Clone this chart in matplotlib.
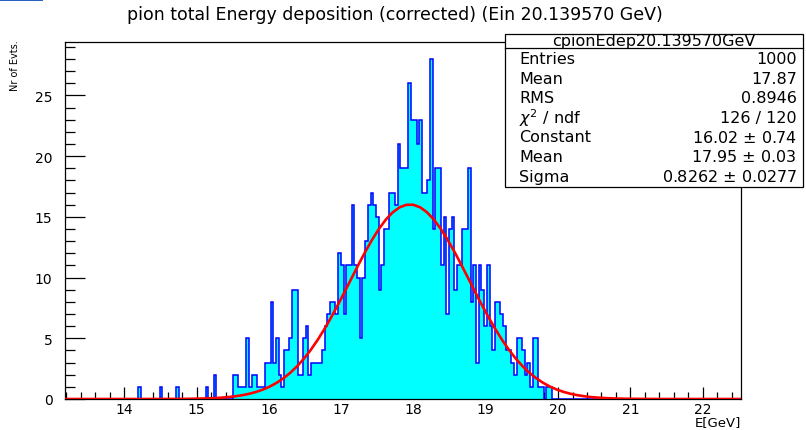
import numpy as np
import matplotlib
matplotlib.use("Agg")
import matplotlib.pyplot as plt
from matplotlib.patches import Rectangle
from matplotlib.ticker import MultipleLocator

plt.rcParams['font.family'] = ['DejaVu Sans']

# histogram binning and contents (250 bins)
e_min, e_max = 13.18, 22.53
counts = [
    0, 0, 0, 0, 0, 0, 0, 0, 0, 0, 0, 0, 0, 0, 0, 0, 0, 0, 0, 0, 0, 0, 0, 0, 0,
    0, 0, 1, 0, 0, 0, 0, 0, 0, 0, 1, 0, 0, 0, 0, 0, 1, 0, 0, 0, 0, 0, 0, 0, 0,
    0, 0, 1, 0, 0, 2, 0, 0, 0, 0, 0, 0, 2, 2, 1, 1, 1, 5, 1, 2, 2, 1, 1, 1, 3,
    3, 8, 3, 5, 2, 1, 4, 4, 5, 9, 9, 2, 2, 5, 6, 2, 3, 3, 3, 3, 4, 6, 7, 8, 8,
    7, 12, 11, 7, 11, 11, 16, 11, 10, 5, 10, 13, 16, 17, 16, 15, 9, 11, 14, 14, 17, 17, 16, 21, 19,
    19, 19, 26, 23, 23, 21, 23, 17, 17, 18, 28, 14, 19, 19, 11, 15, 7, 14, 15, 9, 11, 11, 14, 14, 19,
    8, 11, 3, 11, 9, 6, 11, 6, 4, 8, 8, 7, 6, 4, 4, 3, 2, 5, 5, 4, 2, 3, 1, 5, 5,
    1, 1, 0, 1, 1, 0, 0, 0, 0, 0, 0, 0, 0, 0, 0, 0, 0, 0, 0, 0, 0, 0, 0, 0, 0,
    0, 0, 0, 0, 0, 0, 0, 0, 0, 0, 0, 0, 0, 0, 0, 0, 0, 0, 0, 0, 0, 0, 0, 0, 0,
    0, 0, 0, 0, 0, 0, 0, 0, 0, 0, 0, 0, 0, 0, 0, 0, 0, 0, 0, 0, 0, 0, 0, 0, 0,
]

# gaussian fit result
fit_const, fit_mean, fit_sigma = 16.02, 17.95, 0.8262

hist_name = "cpionEdep20.139570GeV"
stat_labels = ["Entries", "Mean", "RMS", r"$\chi^{2}$ / ndf", "Constant", "Mean", "Sigma"]
stat_values = ["1000", "17.87", "0.8946", "126 / 120",
               "16.02 $\\pm$ 0.74", "17.95 $\\pm$ 0.03", "0.8262 $\\pm$ 0.0277"]

W, H = 806, 431


def fx(px):
    return px / W


def fy(py):
    return 1 - py / H


fig = plt.figure(figsize=(W / 100, H / 100), dpi=100)
ax = fig.add_axes([fx(65), fy(400), fx(741) - fx(65), fy(43) - fy(400)])

edges = np.linspace(e_min, e_max, len(counts) + 1)
ax.stairs(counts, edges, fill=True, color='#00ffff', zorder=2)
ax.stairs(counts, edges, color='#0000ff', lw=1.1, baseline=0, zorder=3)

xf = np.linspace(e_min, e_max, 100)
yf = fit_const * np.exp(-0.5 * ((xf - fit_mean) / fit_sigma) ** 2)
ax.plot(xf, yf, color='#ff0000', lw=1.9, zorder=4)

ax.set_xlim(e_min, e_max)
ax.set_ylim(0, 1.05 * max(counts))

ax.xaxis.set_major_locator(MultipleLocator(1))
ax.xaxis.set_minor_locator(MultipleLocator(0.2))
ax.yaxis.set_major_locator(MultipleLocator(5))
ax.yaxis.set_minor_locator(MultipleLocator(1))
ax.tick_params(axis='x', which='major', direction='in', length=8.5, width=0.9,
               labelsize=10, pad=2.5)
ax.tick_params(axis='x', which='minor', direction='in', length=4.8, width=0.9)
ax.tick_params(axis='y', which='major', direction='in', length=14.5, width=0.9,
               labelsize=10, pad=9)
ax.tick_params(axis='y', which='minor', direction='in', length=7.2, width=0.9)
for sp in ax.spines.values():
    sp.set_linewidth(0.9)

fig.text(fx(395), fy(15), "pion total Energy deposition (corrected) (Ein 20.139570 GeV)",
         ha='center', va='center', fontsize=12.5)
fig.text(fx(741), fy(423), "E[GeV]", ha='right', va='center', fontsize=9.5)
fig.text(fx(15), fy(40), "Nr of Evts.", ha='center', va='top', rotation=90, fontsize=7)

# stats box
bx0, bx1, by0, by1 = 505, 803, 35, 188
fig.patches.append(Rectangle((fx(bx0), fy(by1)), fx(bx1) - fx(bx0), fy(by0) - fy(by1),
                             transform=fig.transFigure, facecolor='white',
                             edgecolor='black', lw=0.9, zorder=5))
fig.lines.append(plt.Line2D([fx(bx0), fx(bx1)], [fy(48.5), fy(48.5)],
                            transform=fig.transFigure, color='black', lw=0.9, zorder=6))
fig.text(fx((bx0 + bx1) / 2), fy(41.5), hist_name, ha='center', va='center',
         fontsize=11.5, zorder=7)
for i, (lab, val) in enumerate(zip(stat_labels, stat_values)):
    yy = fy(59.5 + 19.6 * i)
    fig.text(fx(519), yy, lab, ha='left', va='center', fontsize=11.5, zorder=7)
    fig.text(fx(797), yy, val, ha='right', va='center', fontsize=11.5, zorder=7)

# small blue marker line in the top left corner
fig.patches.append(Rectangle((0, fy(2)), fx(43), fy(0) - fy(2),
                             transform=fig.transFigure, facecolor='#2a62c4',
                             edgecolor='none'))

fig.savefig("out.png", dpi=100)
